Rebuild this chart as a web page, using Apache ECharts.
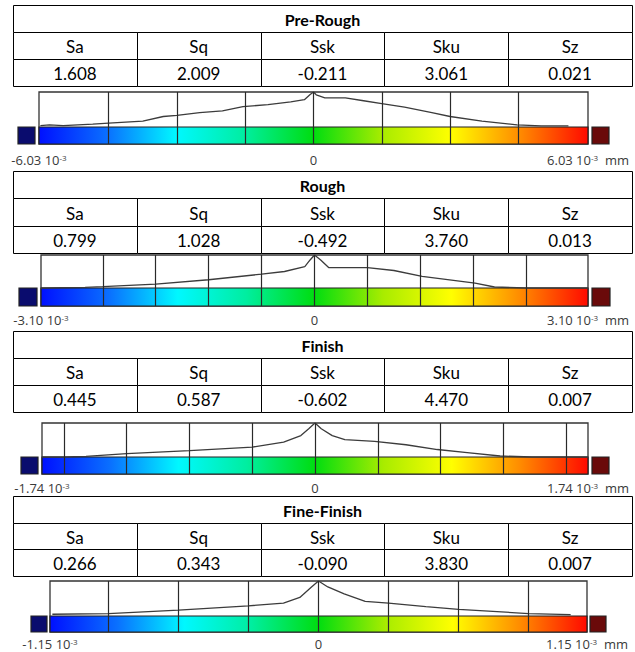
<!DOCTYPE html>
<html>
<head>
<meta charset="utf-8">
<script src="https://cdn.jsdelivr.net/npm/echarts@6/dist/echarts.min.js"></script>
<style>
html,body{margin:0;padding:0;background:#fff;}
#chart{width:635px;height:652px;}
</style>
</head>
<body>
<div id="chart"></div>
<script>
// ---------------- DATA ----------------
const stageNames = ['Pre-Rough', 'Rough', 'Finish', 'Fine-Finish'];
const paramNames = ['Sa', 'Sq', 'Ssk', 'Sku', 'Sz'];
const preRoughParams  = [1.608, 2.009, -0.211, 3.061, 0.021];
const roughParams     = [0.799, 1.028, -0.492, 3.760, 0.013];
const finishParams    = [0.445, 0.587, -0.602, 4.470, 0.007];
const fineFinishParams = [0.266, 0.343, -0.090, 3.830, 0.007];

// height range limits (x 10^-3 mm)
const rangeLimits = [6.03, 3.10, 1.74, 1.15];

// height distribution curves (x in 10^-3 mm, y = relative frequency)
const preRoughX = [-6.0, -5.8, -5.5, -4.85, -4.5, -3.75, -3.3, -3.0, -2.5, -2.0, -1.55, -1.0, -0.5, -0.2, -0.08, 0, 0.06, 0.25, 0.7, 1.1, 1.5, 2.0, 2.6, 3.0, 3.7, 4.47, 5.0, 5.6];
const preRoughY = [0.04, 0.06, 0.04, 0.08, 0.11, 0.17, 0.30, 0.33, 0.41, 0.46, 0.58, 0.64, 0.72, 0.78, 0.92, 1.0, 0.92, 0.83, 0.83, 0.75, 0.67, 0.57, 0.41, 0.30, 0.17, 0.06, 0.03, 0.03];
const roughX = [-3.1, -2.6, -2.4, -1.8, -1.2, -0.6, -0.34, -0.11, -0.05, 0, 0.07, 0.16, 0.6, 0.9, 1.22, 1.82, 2.04, 2.4, 3.1];
const roughY = [0, 0.02, 0.04, 0.12, 0.25, 0.42, 0.50, 0.65, 0.85, 1.0, 0.85, 0.62, 0.62, 0.53, 0.35, 0.15, 0.03, 0, 0];
const finishX = [-1.74, -1.6, -1.46, -1.2, -0.8, -0.4, -0.2, -0.09, -0.04, 0, 0.04, 0.11, 0.19, 0.38, 0.58, 0.78, 0.97, 1.18, 1.38, 1.74];
const finishY = [0, 0, 0.02, 0.10, 0.19, 0.29, 0.44, 0.63, 0.83, 1.0, 0.83, 0.63, 0.51, 0.46, 0.36, 0.22, 0.13, 0.03, 0, 0];
const fineFinishX = [-1.14, -0.9, -0.6, -0.3, -0.15, -0.08, -0.03, 0, 0.04, 0.11, 0.2, 0.3, 0.46, 0.6, 0.9, 1.08];
const fineFinishY = [0.05, 0.07, 0.17, 0.29, 0.37, 0.53, 0.83, 1.0, 0.83, 0.63, 0.42, 0.37, 0.27, 0.19, 0.07, 0.04];

// class boundaries drawn in the histograms (x 10^-3 mm)
const preRoughBins = [-4.5, -3, -1.5, 0, 1.5, 3, 4.5];
const roughBins = [-2.4, -1.8, -1.2, -0.6, 0, 0.6, 1.2, 1.8, 2.4];
const finishBins = [-1.6, -1.2, -0.8, -0.4, 0, 0.4, 0.8, 1.2, 1.6];
const fineFinishBins = [-0.9, -0.6, -0.3, 0, 0.3, 0.6, 0.9];

// ---------------- LAYOUT / STYLE ----------------
const params = [preRoughParams, roughParams, finishParams, fineFinishParams];
const curvesX = [preRoughX, roughX, finishX, fineFinishX];
const curvesY = [preRoughY, roughY, finishY, fineFinishY];
const bins = [preRoughBins, roughBins, finishBins, fineFinishBins];

const layout = [
  {tableTop: 5,   tableH: 81, histTop: 92,  histH: 35, barH: 17, left: 39, right: 588, gap: 4, margin: 9},
  {tableTop: 171, tableH: 82, histTop: 255, histH: 33, barH: 18, left: 41, right: 588, gap: 4, margin: 7},
  {tableTop: 331, tableH: 81, histTop: 423, histH: 34, barH: 17, left: 42, right: 588, gap: 4, margin: 7},
  {tableTop: 496, tableH: 80, histTop: 581, histH: 35, barH: 16, left: 50, right: 587, gap: 3, margin: 5}
];
const tableLeft = 13, tableRight = 632;

const chart = echarts.init(document.getElementById('chart'), null, {renderer: 'svg'});

const grids = [], xAxes = [], yAxes = [], series = [];

function crisp(v) { return Math.round(v) + 0.5; }

layout.forEach(function (L, i) {
  const R = rangeLimits[i];
  const yMin = -L.barH / L.histH;
  // ---- table grid ----
  grids.push({left: tableLeft, width: tableRight - tableLeft, top: L.tableTop, height: L.tableH, show: false});
  xAxes.push({type: 'category', gridIndex: 2 * i, data: paramNames, show: false});
  yAxes.push({type: 'category', gridIndex: 2 * i, data: ['head', 'name', 'value'], inverse: true, show: false});
  const tableData = [[0, 0]];
  paramNames.forEach(function (p, c) { tableData.push([c, 1]); tableData.push([c, 2]); });
  series.push({
    type: 'custom', xAxisIndex: 2 * i, yAxisIndex: 2 * i, silent: true,
    data: tableData,
    renderItem: function (prm, api) {
      const col = api.value(0), row = api.value(1);
      const s = api.size([1, 1]);
      const c = api.coord([col, row]);
      let x0, w, txt, bold = false;
      if (row === 0) {
        x0 = api.coord([0, 0])[0] - s[0] / 2; w = s[0] * paramNames.length;
        txt = stageNames[i]; bold = true;
      } else {
        x0 = c[0] - s[0] / 2; w = s[0];
        txt = row === 1 ? paramNames[col] : params[i][col].toFixed(3);
      }
      const y0 = c[1] - s[1] / 2;
      const xa = crisp(x0), ya = crisp(y0);
      const xb = crisp(x0 + w), yb = crisp(y0 + s[1]);
      return {
        type: 'group',
        children: [
          {type: 'rect', shape: {x: xa, y: ya, width: xb - xa, height: yb - ya},
           style: {fill: '#fff', stroke: '#000', lineWidth: 1}},
          {type: 'text', style: {text: txt, x: x0 + w / 2, y: c[1] + 1, align: 'center', verticalAlign: 'middle',
            fontSize: bold ? 16 : 17, fontWeight: bold ? 'bold' : 'normal', fontFamily: 'Lato', fill: '#000'}}
        ]
      };
    }
  });

  // ---- histogram grid ----
  grids.push({left: L.left, width: L.right - L.left, top: L.histTop, height: L.histH + L.barH,
    show: true, borderColor: '#333', borderWidth: 1.3, backgroundColor: '#fff'});
  xAxes.push({
    type: 'value', gridIndex: 2 * i + 1, min: -R, max: R, interval: R,
    axisLine: {show: false, onZero: false}, axisTick: {show: false}, splitLine: {show: false},
    axisLabel: {
      show: true, margin: L.margin, showMinLabel: true, showMaxLabel: true,
      formatter: function (v) {
        if (Math.abs(v) < 1e-9) return '{z|0}';
        const s = (v < 0 ? '-' : '') + R.toFixed(2);
        return '{n|' + s + ' 10}{sup|-3}' + (v > 0 ? '{n|  mm}' : '');
      },
      rich: {
        n: {fontSize: 13, fontFamily: 'Open Sans', color: '#3a3a3a', lineHeight: 13},
        sup: {fontSize: 8, fontFamily: 'Open Sans', color: '#3a3a3a', verticalAlign: 'top', lineHeight: 8},
        z: {fontSize: 13, fontFamily: 'Open Sans', color: '#3a3a3a', lineHeight: 13}
      }
    }
  });
  yAxes.push({type: 'value', gridIndex: 2 * i + 1, min: yMin, max: 1, show: false, splitLine: {show: false}});

  // colour scale bar + out-of-range squares
  series.push({
    type: 'custom', xAxisIndex: 2 * i + 1, yAxisIndex: 2 * i + 1, silent: true, z: 1, clip: false,
    data: [[-R, R]],
    renderItem: function (prm, api) {
      const p0 = api.coord([api.value(0), 0]);
      const p1 = api.coord([api.value(1), yMin]);
      const h = p1[1] - p0[1];
      const grad = new echarts.graphic.LinearGradient(0, 0, 1, 0, [
        {offset: 0, color: '#0010ff'},
        {offset: 0.125, color: '#0a70ff'},
        {offset: 0.25, color: '#00f8ff'},
        {offset: 0.375, color: '#00eea0'},
        {offset: 0.5, color: '#00dd10'},
        {offset: 0.625, color: '#a8ec00'},
        {offset: 0.75, color: '#ffff00'},
        {offset: 0.875, color: '#ff8c00'},
        {offset: 1, color: '#ff0a00'}
      ]);
      return {
        type: 'group',
        children: [
          {type: 'rect', shape: {x: p0[0], y: p0[1], width: p1[0] - p0[0], height: h},
           style: {fill: grad, stroke: '#222', lineWidth: 1.2}},
          {type: 'rect', shape: {x: p0[0] - L.gap - h, y: p0[1], width: h, height: h},
           style: {fill: '#0a0c6e', stroke: '#222', lineWidth: 1.2}},
          {type: 'rect', shape: {x: p1[0] + L.gap, y: p0[1], width: h, height: h},
           style: {fill: '#6a0a0a', stroke: '#222', lineWidth: 1.2}}
        ]
      };
    }
  });

  // distribution curve with class boundaries
  series.push({
    type: 'line', xAxisIndex: 2 * i + 1, yAxisIndex: 2 * i + 1, z: 3,
    data: curvesX[i].map(function (x, k) { return [x, curvesY[i][k]]; }),
    symbol: 'none', smooth: false, silent: true,
    lineStyle: {color: '#3c3c3c', width: 1.3},
    markLine: {
      silent: true, symbol: ['none', 'none'], label: {show: false}, animation: false,
      lineStyle: {color: '#2a2a2a', type: 'solid', width: 1.2},
      data: bins[i].map(function (v) { return {xAxis: v}; })
    }
  });
});

chart.setOption({
  animation: false,
  backgroundColor: '#fff',
  grid: grids,
  xAxis: xAxes,
  yAxis: yAxes,
  series: series
});
</script>
</body>
</html>
